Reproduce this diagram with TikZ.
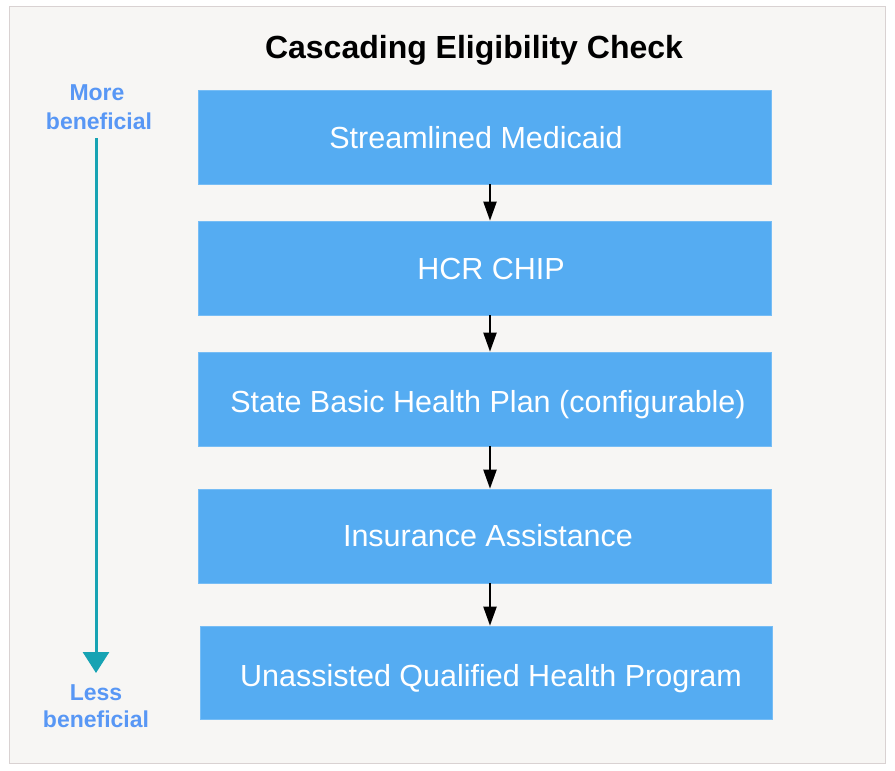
\documentclass[tikz,border=0pt]{standalone}
\usepackage{fontspec}
\setmainfont{Liberation Sans}
\usetikzlibrary{arrows.meta}
\definecolor{bgc}{HTML}{F7F6F4}
\definecolor{framec}{HTML}{D9D2D2}
\definecolor{boxc}{HTML}{55ACF2}
\definecolor{tealc}{HTML}{17A3B3}
\definecolor{labc}{HTML}{5897F5}
\tikzset{
  stagebox/.style={fill=boxc, draw=boxc!80!white, line width=0.6pt, minimum width=573pt, minimum height=94pt, inner sep=0pt},
  stagetext/.style={text=white, font=\fontsize{30.5}{34}\selectfont, inner sep=0pt},
  flowarrow/.style={-{Triangle[length=19pt,width=13pt]}, line width=2pt, black},
  sidelab/.style={text=labc, font=\fontsize{23}{29}\selectfont\bfseries, align=center, inner sep=0pt},
}
\begin{document}
\begin{tikzpicture}[x=1pt,y=-1pt]
\useasboundingbox (0,0) rectangle (895,771);
\draw[fill=bgc, draw=framec, line width=1pt] (9,6) rectangle (885,763);
\node[font=\fontsize{32}{36}\selectfont\bfseries, inner sep=0pt, anchor=base] (title) at (474,58) {Cascading Eligibility Check};
\node[stagebox] (b1) at (484.5,137) {};
\node[stagetext, anchor=base] (t1) at (476,148) {Streamlined Medicaid};
\node[stagebox] (b2) at (484.5,268) {};
\node[stagetext, anchor=base] (t2) at (491,279) {HCR CHIP};
\node[stagebox] (b3) at (484.5,399) {};
\node[stagetext, anchor=base] (t3) at (488,412) {State Basic Health Plan (configurable)};
\node[stagebox] (b4) at (484.5,536) {};
\node[stagetext, anchor=base] (t4) at (488,546) {Insurance Assistance};
\node[stagebox, minimum width=572pt, minimum height=93pt] (b5) at (486,672.5) {};
\node[stagetext, anchor=base] (t5) at (491,686) {Unassisted Qualified Health Program};
\draw[flowarrow] (b1.south -| 490,0) -- (b2.north -| 490,0);
\draw[flowarrow] (b2.south -| 490,0) -- (b3.north -| 490,0);
\draw[flowarrow] (b3.south -| 490,0) -- (b4.north -| 490,0);
\draw[flowarrow] (b4.south -| 490,0) -- (b5.north -| 490,0);
\node[sidelab, anchor=base] (more1) at (97,100) {More};
\node[sidelab, anchor=base] (more2) at (99,129) {beneficial};
\node[sidelab, anchor=base] (less1) at (96,700) {Less};
\node[sidelab, anchor=base] (less2) at (96,727) {beneficial};
\coordinate (astart) at (96,138);
\coordinate (aend) at (96,673);
\draw[tealc, line width=3pt, -{Triangle[length=21pt,width=26pt]}] (astart) -- (aend);
\end{tikzpicture}
\end{document}
